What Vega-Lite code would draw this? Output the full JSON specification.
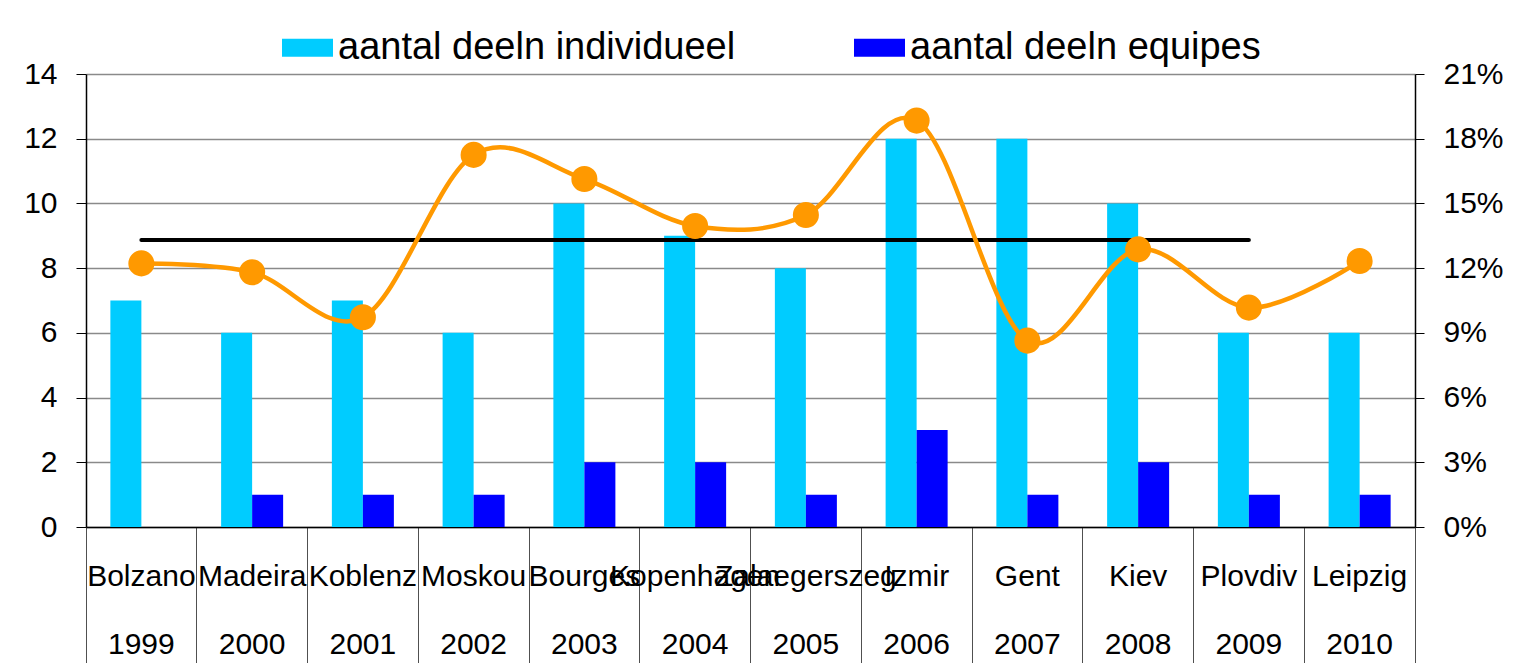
{
  "$schema": "https://vega.github.io/schema/vega-lite/v6.json",
  "width": 1329,
  "height": 453,
  "autosize": {"type": "none"},
  "padding": {"left": 86, "top": 74, "right": 100, "bottom": 136},
  "background": "white",
  "config": {
    "font": "Liberation Sans",
    "view": {"stroke": null},
    "axis": {"labelFont": "Liberation Sans", "labelFontSize": 30, "labelColor": "#000", "domainColor": "#000", "domainWidth": 1.5, "tickColor": "#000", "tickWidth": 1, "title": null},
    "axisX": {
      "labelExpr": "split(datum.label, '|')",
      "bandPosition": 1,
      "tickExtra": true,
      "tickSize": 136,
      "tickColor": "#505050",
      "tickWidth": 1,
      "labelOffset": 0,
      "labelPadding": -102,
      "labelBaseline": "top",
      "labelLineHeight": 68,
      "labelAngle": 0,
      "labelOverlap": false,
      "labelBound": false,
      "labelFlush": false,
      "labelLimit": 0,
      "grid": false
    }
  },
  "datasets": {
    "bars": [
      {"cat": "Bolzano|1999", "serie": "aantal deeln individueel", "value": 7},
      {"cat": "Bolzano|1999", "serie": "aantal deeln equipes", "value": 0},
      {"cat": "Madeira|2000", "serie": "aantal deeln individueel", "value": 6},
      {"cat": "Madeira|2000", "serie": "aantal deeln equipes", "value": 1},
      {"cat": "Koblenz|2001", "serie": "aantal deeln individueel", "value": 7},
      {"cat": "Koblenz|2001", "serie": "aantal deeln equipes", "value": 1},
      {"cat": "Moskou|2002", "serie": "aantal deeln individueel", "value": 6},
      {"cat": "Moskou|2002", "serie": "aantal deeln equipes", "value": 1},
      {"cat": "Bourges|2003", "serie": "aantal deeln individueel", "value": 10},
      {"cat": "Bourges|2003", "serie": "aantal deeln equipes", "value": 2},
      {"cat": "Kopenhagen|2004", "serie": "aantal deeln individueel", "value": 9},
      {"cat": "Kopenhagen|2004", "serie": "aantal deeln equipes", "value": 2},
      {"cat": "Zalaegerszeg|2005", "serie": "aantal deeln individueel", "value": 8},
      {"cat": "Zalaegerszeg|2005", "serie": "aantal deeln equipes", "value": 1},
      {"cat": "Izmir|2006", "serie": "aantal deeln individueel", "value": 12},
      {"cat": "Izmir|2006", "serie": "aantal deeln equipes", "value": 3},
      {"cat": "Gent|2007", "serie": "aantal deeln individueel", "value": 12},
      {"cat": "Gent|2007", "serie": "aantal deeln equipes", "value": 1},
      {"cat": "Kiev|2008", "serie": "aantal deeln individueel", "value": 10},
      {"cat": "Kiev|2008", "serie": "aantal deeln equipes", "value": 2},
      {"cat": "Plovdiv|2009", "serie": "aantal deeln individueel", "value": 6},
      {"cat": "Plovdiv|2009", "serie": "aantal deeln equipes", "value": 1},
      {"cat": "Leipzig|2010", "serie": "aantal deeln individueel", "value": 6},
      {"cat": "Leipzig|2010", "serie": "aantal deeln equipes", "value": 1}
    ],
    "pct": [
      {"cat": "Bolzano|1999", "v": 0.1222},
      {"cat": "Madeira|2000", "v": 0.1181},
      {"cat": "Koblenz|2001", "v": 0.0972},
      {"cat": "Moskou|2002", "v": 0.1725},
      {"cat": "Bourges|2003", "v": 0.1613},
      {"cat": "Kopenhagen|2004", "v": 0.1395},
      {"cat": "Zalaegerszeg|2005", "v": 0.1446},
      {"cat": "Izmir|2006", "v": 0.1884},
      {"cat": "Gent|2007", "v": 0.0864},
      {"cat": "Kiev|2008", "v": 0.1287},
      {"cat": "Plovdiv|2009", "v": 0.1017},
      {"cat": "Leipzig|2010", "v": 0.1233}
    ],
    "avg": [
      {"cat": "Bolzano|1999", "v": 0.133},
      {"cat": "Plovdiv|2009", "v": 0.133}
    ]
  },
  "layer": [
    {
      "data": {"name": "bars"},
      "mark": {"type": "bar"},
      "encoding": {
        "x": {
          "field": "cat", "type": "nominal",
          "scale": {"domain": ["Bolzano|1999", "Madeira|2000", "Koblenz|2001", "Moskou|2002", "Bourges|2003", "Kopenhagen|2004", "Zalaegerszeg|2005", "Izmir|2006", "Gent|2007", "Kiev|2008", "Plovdiv|2009", "Leipzig|2010"], "paddingInner": 0, "paddingOuter": 0}
        },
        "xOffset": {
          "field": "serie", "type": "nominal",
          "scale": {"domain": ["aantal deeln individueel", "aantal deeln equipes"], "paddingInner": 0, "paddingOuter": 0.786}
        },
        "y": {
          "field": "value", "type": "quantitative",
          "scale": {"domain": [0, 14]},
          "axis": {"orient": "left", "values": [0, 2, 4, 6, 8, 10, 12, 14], "grid": true, "gridColor": "#8a8a8a", "gridWidth": 1.5, "tickSize": 10, "labelPadding": 19}
        },
        "color": {
          "field": "serie", "type": "nominal",
          "scale": {"domain": ["aantal deeln individueel", "aantal deeln equipes"], "range": ["#00CCFF", "#0000FF"]},
          "legend": {
            "orient": "none", "legendX": 196, "legendY": -52, "direction": "horizontal",
            "title": null, "padding": 0,
            "symbolType": "M-1,-0.353H1V0.353H-1Z", "symbolSize": 2601,
            "symbolStrokeWidth": 0, "symbolOpacity": 1,
            "labelFontSize": 38, "labelFont": "Liberation Sans", "labelColor": "#000",
            "labelOffset": 5, "labelLimit": 0, "columnPadding": 118
          }
        }
      }
    },
    {
      "encoding": {
        "x": {"field": "cat", "type": "nominal"},
        "y": {
          "field": "v", "type": "quantitative",
          "scale": {"domain": [0, 0.21]},
          "axis": {"orient": "right", "format": ".0%", "values": [0, 0.03, 0.06, 0.09, 0.12, 0.15, 0.18, 0.21], "grid": false, "tickSize": 9, "labelPadding": 19}
        }
      },
      "layer": [
        {"data": {"name": "avg"}, "mark": {"type": "line", "color": "#000", "strokeWidth": 4, "strokeCap": "round"}},
        {"data": {"name": "pct"}, "mark": {"type": "line", "color": "#FF9900", "strokeWidth": 4.5, "interpolate": "cardinal"}},
        {"data": {"name": "pct"}, "mark": {"type": "circle", "color": "#FF9900", "size": 680, "opacity": 1}}
      ]
    }
  ],
  "resolve": {"scale": {"y": "independent"}}
}
